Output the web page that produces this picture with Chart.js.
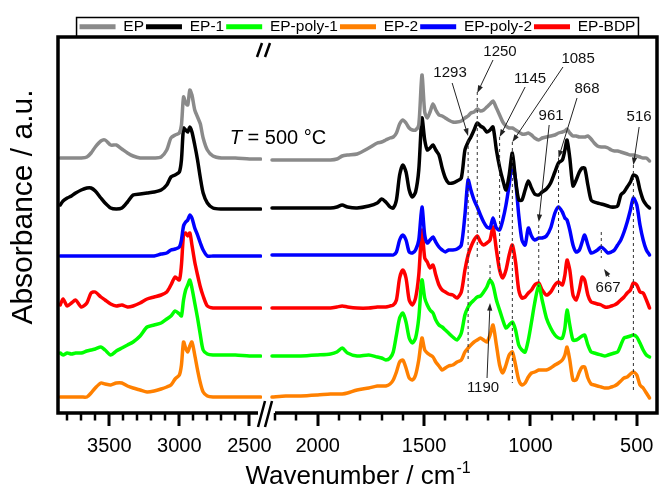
<!DOCTYPE html>
<html lang="en">
<head>
<meta charset="UTF-8">
<title>FTIR spectra at T = 500 °C</title>
<style>
  html, body { margin: 0; padding: 0; background: #fff; }
  #wrap { width: 660px; height: 495px; }
</style>
<script src="https://cdn.jsdelivr.net/npm/chart.js"></script>
</head>
<body>
<div id="wrap"><canvas id="ftir" width="660" height="495"></canvas></div>
<script>
  const FONT = "'Liberation Sans', Arial, sans-serif";

  // Wavenumber grids (cm-1): high wavenumber part and fingerprint part of the broken axis
  const wnLeft = [3850, 3830, 3800, 3770, 3740, 3700, 3660, 3630, 3600, 3560,
    3530, 3490, 3450, 3410, 3370, 3330, 3280, 3230, 3180, 3130,
    3090, 3060, 3030, 3000, 2985, 2970, 2955, 2940, 2925, 2910,
    2890, 2870, 2850, 2830, 2800, 2760, 2700, 2600, 2500, 2420];
  const wnRight = [2215, 2150, 2080, 2000, 1940, 1910, 1885, 1860, 1815, 1760,
    1720, 1700, 1680, 1660, 1645, 1630, 1615, 1600, 1585, 1570,
    1555, 1540, 1525, 1510, 1497, 1485, 1472, 1458, 1445, 1430,
    1415, 1400, 1385, 1365, 1345, 1325, 1308, 1293, 1280, 1265,
    1250, 1235, 1220, 1205, 1190, 1176, 1160, 1145, 1130, 1115,
    1100, 1085, 1070, 1055, 1040, 1025, 1010, 995, 980, 961,
    945, 925, 905, 885, 868, 850, 838, 828, 815, 800,
    785, 770, 757, 745, 730, 715, 700, 685, 667, 650,
    635, 620, 605, 590, 575, 560, 545, 530, 516, 500,
    485, 470, 455, 440];

  const seriesNames = ['EP', 'EP-1', 'EP-poly-1', 'EP-2', 'EP-poly-2', 'EP-BDP'];
  const seriesColors = ['#8a8a8a', '#000000', '#00ff00', '#ff8000', '#0000ff', '#ff0000'];

  // Absorbance (a.u.), spectra already offset vertically as in the figure
  const epLeft = [254, 254, 254, 254, 254, 254, 255, 259, 265, 271,
    272, 267, 267, 263, 259, 256, 254, 254, 254, 255,
    262, 274, 277, 279, 287, 315, 309, 307, 322, 317,
    302, 295, 288, 274, 262, 256, 254, 254, 253, 253];
  const epRight = [252, 252, 252, 252, 252, 253, 256, 257, 258, 264,
    269, 270, 272, 274, 275, 279, 288, 292, 289, 284,
    282, 282, 287, 337, 300, 294, 300, 308, 302, 297,
    296, 294, 292, 290, 290, 291, 294, 296, 299, 300,
    303, 301, 302, 305, 308, 311, 304, 297, 290, 286,
    284, 284, 282, 280, 278, 278, 279, 277, 274, 272,
    274, 275, 276, 277, 279, 280, 281, 283, 279, 276,
    276, 275, 275, 275, 276, 273, 269, 266, 265, 265,
    264, 262, 261, 261, 260, 259, 258, 257, 257, 256,
    255, 254, 254, 251];

  const ep1Left = [207, 211, 214, 216, 219, 222, 224, 224, 221, 214,
    209, 204, 203, 204, 210, 217, 218, 219, 220, 222,
    227, 235, 237, 240, 252, 284, 282, 280, 285, 280,
    267, 252, 234, 219, 209, 204, 203, 203, 203, 203];
  const ep1Right = [204, 204, 204, 204, 204, 205, 207, 205, 204, 206,
    209, 213, 210, 205, 204, 212, 237, 247, 240, 222,
    215, 220, 242, 294, 272, 262, 264, 267, 262, 257,
    244, 234, 229, 229, 231, 234, 262, 270, 275, 282,
    289, 286, 284, 280, 282, 285, 262, 245, 232, 222,
    237, 259, 232, 212, 212, 222, 231, 224, 218, 217,
    220, 223, 229, 240, 249, 252, 262, 272, 254, 226,
    232, 240, 244, 244, 227, 212, 210, 209, 208, 207,
    206, 205, 205, 206, 217, 220, 225, 230, 237, 235,
    222, 212, 207, 204];

  const epPoly1Left = [59, 57, 59, 58, 59, 59, 61, 62, 63, 65,
    62, 57, 61, 64, 67, 70, 76, 85, 87, 89,
    93, 96, 101, 98, 96, 112, 122, 127, 132, 124,
    109, 94, 77, 62, 58, 57, 57, 57, 56, 56];
  const epPoly1Right = [56, 56, 56, 57, 58, 60, 64, 59, 56, 57,
    55, 54, 52, 54, 60, 77, 94, 99, 90, 74,
    69, 74, 94, 132, 114, 107, 102, 99, 92, 87,
    85, 82, 79, 75, 72, 79, 97, 105, 109, 112,
    115, 116, 120, 125, 132, 127, 112, 102, 92, 84,
    87, 90, 82, 67, 62, 60, 72, 90, 109, 127,
    112, 94, 84, 77, 74, 74, 84, 102, 87, 72,
    72, 74, 76, 77, 67, 60, 59, 58, 57, 56,
    57, 58, 59, 60, 67, 74, 75, 76, 77, 75,
    69, 62, 57, 55];

  const ep2Left = [15, 15, 15, 15, 15, 15, 15, 19, 24, 29,
    28, 27, 29, 29, 26, 24, 22, 20, 21, 23,
    25, 27, 33, 37, 47, 70, 64, 60, 66, 70,
    57, 42, 29, 20, 16, 15, 15, 15, 15, 15];
  const ep2Right = [15, 16, 16, 17, 18, 18, 18, 19, 22, 24,
    26, 26, 26, 28, 32, 40, 50, 52, 44, 34,
    32, 37, 52, 74, 62, 59, 57, 55, 50, 46,
    42, 44, 46, 47, 50, 52, 60, 64, 67, 70,
    72, 74, 72, 70, 77, 87, 67, 47, 39, 47,
    57, 60, 47, 32, 27, 29, 35, 39, 40, 42,
    42, 42, 44, 47, 49, 52, 57, 65, 52, 32,
    32, 40, 45, 45, 34, 28, 27, 26, 25, 24,
    24, 25, 26, 28, 31, 34, 35, 38, 40, 37,
    27, 24, 19, 14];

  const epPoly2Left = [156, 156, 156, 156, 156, 156, 156, 156, 156, 156,
    156, 156, 156, 156, 156, 156, 156, 156, 156, 158,
    159, 162, 163, 165, 172, 186, 190, 192, 197, 194,
    184, 177, 169, 162, 156, 156, 156, 156, 156, 156];
  const epPoly2Right = [157, 157, 157, 157, 157, 157, 157, 157, 157, 157,
    157, 157, 157, 157, 157, 160, 172, 177, 172, 160,
    159, 162, 172, 205, 177, 169, 172, 175, 170, 165,
    162, 160, 162, 162, 163, 167, 197, 232, 222, 212,
    205, 197, 190, 185, 184, 194, 184, 182, 192, 207,
    227, 249, 232, 197, 172, 167, 184, 176, 172, 174,
    174, 176, 184, 199, 205, 200, 194, 192, 182, 167,
    160, 162, 170, 177, 167, 159, 160, 162, 165, 162,
    159, 160, 162, 167, 172, 180, 190, 202, 214, 207,
    187, 172, 162, 157];

  const epBdpLeft = [107, 113, 106, 109, 112, 105, 109, 119, 120, 115,
    112, 108, 106, 107, 105, 106, 109, 113, 115, 117,
    120, 127, 135, 132, 147, 177, 179, 176, 179, 167,
    150, 137, 125, 116, 106, 104, 104, 104, 104, 104];
  const epBdpRight = [104, 104, 104, 104, 104, 105, 106, 105, 104, 104,
    105, 105, 105, 106, 107, 112, 134, 142, 134, 112,
    107, 114, 137, 182, 154, 150, 144, 147, 137, 127,
    122, 120, 118, 117, 114, 120, 142, 157, 165, 172,
    176, 170, 167, 169, 172, 185, 162, 142, 134, 142,
    157, 167, 150, 122, 114, 115, 119, 122, 127, 129,
    122, 117, 120, 127, 130, 127, 137, 152, 142, 117,
    112, 122, 135, 132, 117, 110, 109, 108, 107, 105,
    105, 106, 107, 109, 112, 115, 119, 122, 129, 127,
    120, 119, 112, 104];

  const leftValues = [epLeft, ep1Left, epPoly1Left, ep2Left, epPoly2Left, epBdpLeft];
  const rightValues = [epRight, ep1Right, epPoly1Right, ep2Right, epPoly2Right, epBdpRight];

  // Peak marks: label, dashed guide (wn, from, to), arrow (tail wn, y, head wn, y), text position (wn, y)
  const peakLabels = ['1293', '1250', '1145', '1085', '961', '868', '516', '667', '1190'];
  const guideWn = [1293, 1250, 1145, 1085, 961, 868, 516, 667, 1190];
  const guideFrom = [272, 320, 275, 270, 187, 254, 247, 180, 147];
  const guideTo = [52, 154, 139, 29, 125, 119, 22, 154, 130];
  const arrowTail = [[1368, 329], [1176, 352], [1025, 325], [847, 345], [912, 287], [781, 314], [489, 285], [630, 135], [1204, 34]];
  const arrowHead = [[1293, 276], [1250, 319], [1145, 275], [1085, 270], [961, 190], [868, 254], [516, 247], [654, 143], [1190, 109]];
  const labelPos = [[1378, 339], [1143, 360], [1002, 333], [776, 353], [903, 296], [734, 323], [489, 295], [635, 124], [1223, 24]];

  const datasets = [];
  seriesNames.forEach((name, i) => {
    datasets.push({
      label: name,
      xAxisID: 'xL',
      data: wnLeft.map((w, k) => ({x: w, y: leftValues[i][k]})),
      borderColor: seriesColors[i],
      backgroundColor: seriesColors[i]
    });
  });
  seriesNames.forEach((name, i) => {
    datasets.push({
      label: name,
      xAxisID: 'xR',
      data: wnRight.map((w, k) => ({x: w, y: rightValues[i][k]})),
      borderColor: seriesColors[i],
      backgroundColor: seriesColors[i]
    });
  });

  function wnAxis(min, max, weight) {
    return {
      type: 'linear',
      position: 'bottom',
      reverse: true,
      min: min,
      max: max,
      stack: 'wn',
      stackWeight: weight,
      border: { display: false },
      // tick marks themselves are drawn by the decor plugin (long every 500, short every 100)
      grid: { display: false, drawTicks: true, tickLength: 13 },
      ticks: {
        stepSize: 100,
        includeBounds: false,
        autoSkip: false,
        maxRotation: 0,
        minRotation: 0,
        padding: 8,
        color: '#000',
        font: { family: FONT, size: 20 },
        callback: (v) => (v % 500 === 0 ? String(v) : '')
      },
      afterBuildTicks: (s) => { s.ticks = s.ticks.filter((t) => t.value % 100 === 0); },
      afterFit: (s) => { s.height = 45; s.paddingLeft = 0; s.paddingRight = 0; }
    };
  }

  function drawArrow(ctx, x1, y1, x2, y2) {
    const ang = Math.atan2(y2 - y1, x2 - x1);
    const head = 8;
    ctx.beginPath();
    ctx.moveTo(x1, y1);
    ctx.lineTo(x2 - Math.cos(ang) * head * 0.6, y2 - Math.sin(ang) * head * 0.6);
    ctx.stroke();
    ctx.beginPath();
    ctx.moveTo(x2, y2);
    ctx.lineTo(x2 - head * Math.cos(ang - 0.33), y2 - head * Math.sin(ang - 0.33));
    ctx.lineTo(x2 - head * Math.cos(ang + 0.33), y2 - head * Math.sin(ang + 0.33));
    ctx.closePath();
    ctx.fill();
  }

  // frame, tick marks, axis break, peak marks, axis titles
  const decorPlugin = {
    id: 'decor',
    afterDraw(chart) {
      const {ctx, chartArea: a, scales} = chart;
      const xL = scales.xL, xR = scales.xR, y = scales.y;
      const brk = xL.right;
      ctx.save();

      // peak guides
      ctx.strokeStyle = '#333';
      ctx.lineWidth = 1;
      ctx.setLineDash([3, 3]);
      guideWn.forEach((w, i) => {
        const px = xR.getPixelForValue(w);
        ctx.beginPath();
        ctx.moveTo(px, y.getPixelForValue(guideFrom[i]));
        ctx.lineTo(px, y.getPixelForValue(guideTo[i]));
        ctx.stroke();
      });
      ctx.setLineDash([]);
      ctx.fillStyle = '#222';
      ctx.strokeStyle = '#222';
      arrowTail.forEach((t, i) => {
        const h = arrowHead[i];
        drawArrow(ctx, xR.getPixelForValue(t[0]), y.getPixelForValue(t[1]),
          xR.getPixelForValue(h[0]), y.getPixelForValue(h[1]));
      });
      ctx.fillStyle = '#111';
      ctx.font = '15px ' + FONT;
      ctx.textAlign = 'center';
      ctx.textBaseline = 'middle';
      peakLabels.forEach((txt, i) => {
        ctx.fillText(txt, xR.getPixelForValue(labelPos[i][0]), y.getPixelForValue(labelPos[i][1]));
      });

      // temperature note
      ctx.fillStyle = '#000';
      ctx.textAlign = 'left';
      ctx.textBaseline = 'alphabetic';
      const tx = xL.getPixelForValue(2640);
      const ty = y.getPixelForValue(268);
      ctx.font = 'italic 20px ' + FONT;
      ctx.fillText('T', tx, ty);
      const tw = ctx.measureText('T').width;
      ctx.font = '20px ' + FONT;
      ctx.fillText(' = 500 °C', tx + tw, ty);

      // tick marks below the frame
      ctx.fillStyle = '#000';
      [xL, xR].forEach((s) => {
        s.ticks.forEach((t) => {
          const px = Math.round(s.getPixelForValue(t.value));
          if (t.value % 500 === 0) {
            ctx.fillRect(px - 1.5, a.bottom, 3, 13);
          } else {
            ctx.fillRect(px - 1.25, a.bottom, 2.5, 7.5);
          }
        });
      });

      // frame with broken bottom axis
      ctx.strokeStyle = '#000';
      ctx.lineWidth = 3.5;
      ctx.beginPath();
      ctx.moveTo(brk - 4, a.bottom);
      ctx.lineTo(a.left, a.bottom);
      ctx.lineTo(a.left, a.top);
      ctx.lineTo(a.right, a.top);
      ctx.lineTo(a.right, a.bottom);
      ctx.lineTo(brk + 13, a.bottom);
      ctx.stroke();
      ctx.lineWidth = 2.5;
      ctx.beginPath();
      ctx.moveTo(brk - 4, a.bottom + 14); ctx.lineTo(brk + 3, a.bottom - 12);
      ctx.moveTo(brk + 3, a.bottom + 14); ctx.lineTo(brk + 10, a.bottom - 12);
      ctx.moveTo(brk - 5, a.top + 20); ctx.lineTo(brk, a.top + 6);
      ctx.moveTo(brk + 3, a.top + 20); ctx.lineTo(brk + 8, a.top + 6);
      ctx.stroke();

      // legend frame
      const boxes = chart.legend.legendHitBoxes;
      if (boxes && boxes.length) {
        const l = Math.min(...boxes.map((b) => b.left)) - 3;
        const r = Math.max(...boxes.map((b) => b.left + b.width)) + 3;
        ctx.lineWidth = 1.5;
        ctx.strokeRect(l, chart.legend.top + 0.5, r - l, a.top - chart.legend.top - 0.5);
      }

      // axis titles
      ctx.fillStyle = '#000';
      ctx.save();
      ctx.translate(a.left - 34, a.top + 170);
      ctx.rotate(-Math.PI / 2);
      ctx.font = '30px ' + FONT;
      ctx.textAlign = 'center';
      ctx.textBaseline = 'middle';
      ctx.fillText('Absorbance / a.u.', 0, 0);
      ctx.restore();

      ctx.textAlign = 'left';
      ctx.textBaseline = 'alphabetic';
      ctx.font = '26px ' + FONT;
      const main = 'Wavenumber / cm';
      const w1 = ctx.measureText(main).width;
      ctx.font = '16px ' + FONT;
      const w2 = ctx.measureText('-1').width;
      const x0 = (a.left + a.right) / 2 - (w1 + w2) / 2;
      const base = a.bottom + 71;
      ctx.font = '26px ' + FONT;
      ctx.fillText(main, x0, base);
      ctx.font = '16px ' + FONT;
      ctx.fillText('-1', x0 + w1 + 1, base - 11);

      ctx.restore();
    }
  };

  new Chart(document.getElementById('ftir'), {
    type: 'line',
    data: { datasets: datasets },
    options: {
      responsive: false,
      animation: false,
      layout: { padding: { left: 58, right: 3, top: 17, bottom: 37 } },
      elements: {
        line: { borderWidth: 3.5, tension: 0.25, fill: false, borderJoinStyle: 'round', borderCapStyle: 'round' },
        point: { radius: 0, hoverRadius: 0 }
      },
      scales: {
        xL: wnAxis(2410, 3866, 204),
        xR: wnAxis(405, 2262, 395),
        y: { display: false, min: -1, max: 375 }
      },
      plugins: {
        tooltip: { enabled: false },
        legend: {
          display: true,
          position: 'top',
          fullSize: false,
          maxHeight: 20,
          labels: {
            font: { family: FONT, size: 15.5 },
            color: '#000',
            boxWidth: 36,
            boxHeight: 5,
            padding: 2,
            generateLabels: (chart) => Chart.defaults.plugins.legend.labels.generateLabels(chart)
              .map((it) => Object.assign(it, { lineWidth: 0 })),
            filter: (item) => item.datasetIndex < 6
          }
        }
      }
    },
    plugins: [decorPlugin]
  });
</script>
</body>
</html>
